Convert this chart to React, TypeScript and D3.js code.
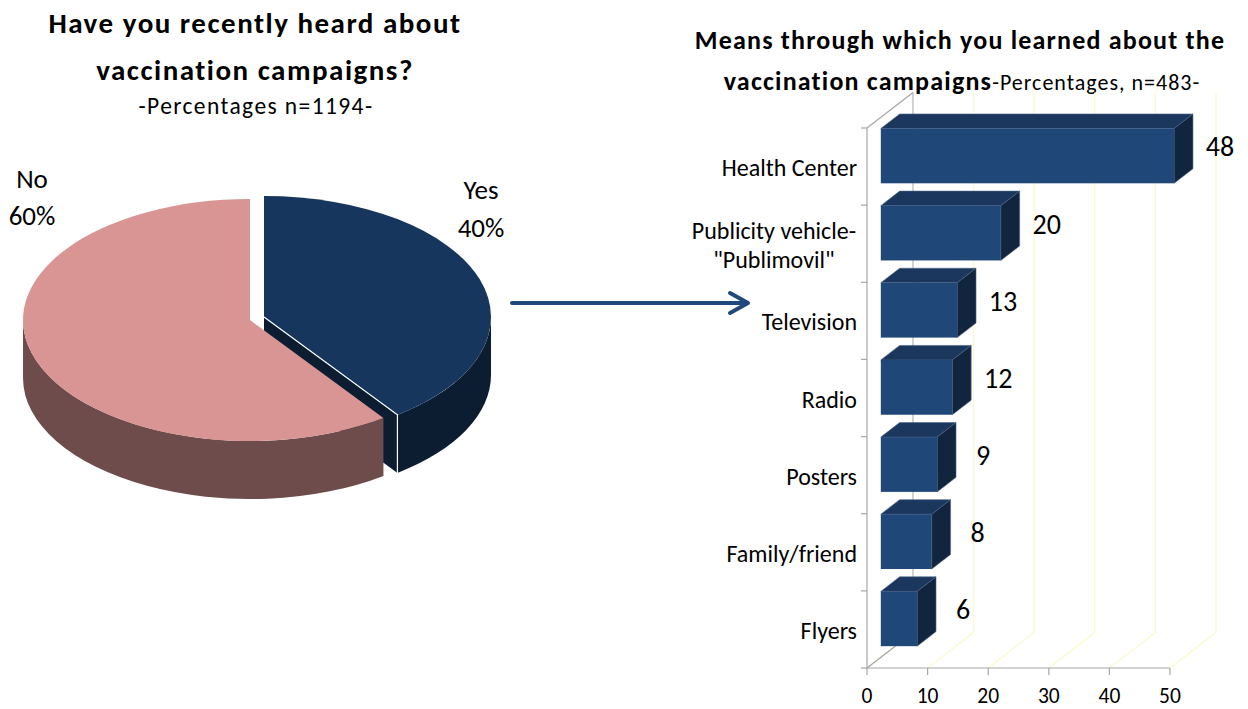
import React, { useEffect, useRef } from "react";
import * as d3 from "d3";

const pieCategories = ["Yes", "No"];
const pieValues = [40, 60];
const barCategories = [
  "Health Center",
  "Publicity vehicle-|\"Publimovil\"",
  "Television",
  "Radio",
  "Posters",
  "Family/friend",
  "Flyers",
];
const barValues = [48.4, 19.8, 12.6, 11.8, 9.3, 8.4, 6.0];
const xTicks = [0, 10, 20, 30, 40, 50];

const FONT = "Carlito, Calibri, Lato, 'Open Sans', sans-serif";

export default function App() {
  const ref = useRef<SVGSVGElement>(null);

  useEffect(() => {
    const svg = d3.select(ref.current);
    svg.selectAll("*").remove();

    // ---------- Titles ----------
    const t = svg.append("g").attr("font-family", FONT).attr("fill", "#000");
    t.append("text").attr("x", 255).attr("y", 33).attr("text-anchor", "middle")
      .attr("font-weight", "bold").attr("font-size", 29).attr("letter-spacing", 1.5)
      .text("Have you recently heard about");
    t.append("text").attr("x", 255).attr("y", 80).attr("text-anchor", "middle")
      .attr("font-weight", "bold").attr("font-size", 29).attr("letter-spacing", 1.5)
      .text("vaccination campaigns?");
    t.append("text").attr("x", 256).attr("y", 114).attr("text-anchor", "middle")
      .attr("font-size", 23.5).attr("letter-spacing", 1.4).text("-Percentages n=1194-");

    t.append("text").attr("x", 960).attr("y", 49).attr("text-anchor", "middle")
      .attr("font-weight", "bold").attr("font-size", 26).attr("letter-spacing", 1.2)
      .text("Means through which you learned about the");
    const l2 = t.append("text").attr("x", 962).attr("y", 90).attr("text-anchor", "middle");
    l2.append("tspan").attr("font-weight", "bold").attr("font-size", 26).attr("letter-spacing", 1.2)
      .text("vaccination campaigns");
    l2.append("tspan").attr("font-size", 22).attr("letter-spacing", 1).text("-Percentages, n=483-");

    // ---------- 3D Pie ----------
    const cx = 250, cy = 320, rx = 227, ry = 121, depth = 58;
    const explode = [14, -3];
    const arcs = d3.pie<number>().sort(null).startAngle(0).endAngle(2 * Math.PI)(pieValues);
    const P = (a: number, ox: number, oy: number, dz = 0): [number, number] =>
      [cx + ox + rx * Math.sin(a), cy + oy - ry * Math.cos(a) + dz];
    const topPath = (a0: number, a1: number, ox: number, oy: number) => {
      const p0 = P(a0, ox, oy), p1 = P(a1, ox, oy);
      const large = a1 - a0 > Math.PI ? 1 : 0;
      return `M${cx + ox},${cy + oy}L${p0[0]},${p0[1]}A${rx},${ry} 0 ${large} 1 ${p1[0]},${p1[1]}Z`;
    };
    const sidePath = (a0: number, a1: number, ox: number, oy: number) => {
      const s = Math.max(a0, Math.PI / 2), e = Math.min(a1, 1.5 * Math.PI);
      if (e <= s) return null;
      const p0 = P(s, ox, oy), p1 = P(e, ox, oy), q1 = P(e, ox, oy, depth), q0 = P(s, ox, oy, depth);
      const large = e - s > Math.PI ? 1 : 0;
      return `M${p0[0]},${p0[1]}A${rx},${ry} 0 ${large} 1 ${p1[0]},${p1[1]}L${q1[0]},${q1[1]}A${rx},${ry} 0 ${large} 0 ${q0[0]},${q0[1]}Z`;
    };
    const topColors = ["#17365d", "#d99594"];
    const sideColors = ["#0c1d31", "#6d4c4b"];
    const pg = svg.append("g");
    // Yes slice (exploded)
    {
      const a = arcs[0];
      const [ox, oy] = explode;
      const pe = P(a.endAngle, ox, oy), pd = P(a.endAngle, ox, oy, depth);
      pg.append("path")
        .attr("d", `M${cx + ox},${cy + oy}L${pe[0]},${pe[1]}L${pd[0]},${pd[1]}L${cx + ox},${cy + oy + depth}Z`)
        .attr("fill", sideColors[0]);
      const sp = sidePath(a.startAngle, a.endAngle, ox, oy);
      if (sp) pg.append("path").attr("d", sp).attr("fill", sideColors[0]);
      pg.append("path").attr("d", topPath(a.startAngle, a.endAngle, ox, oy)).attr("fill", topColors[0]);
      pg.append("path")
        .attr("d", `M${cx + ox},${cy + oy}L${pe[0]},${pe[1]}L${pd[0]},${pd[1]}`)
        .attr("fill", "none").attr("stroke", "#fff").attr("stroke-width", 1.2);
    }
    // No slice
    {
      const a = arcs[1];
      const sp = sidePath(a.startAngle, a.endAngle, 0, 0);
      if (sp) pg.append("path").attr("d", sp).attr("fill", sideColors[1]);
      pg.append("path").attr("d", topPath(a.startAngle, a.endAngle, 0, 0)).attr("fill", topColors[1]);
    }
    // Pie labels
    const pl = svg.append("g").attr("font-family", FONT).attr("font-size", 27).attr("text-anchor", "middle");
    pl.append("text").attr("x", 32).attr("y", 188).text(pieCategories[1]);
    pl.append("text").attr("x", 32).attr("y", 225).text(`${pieValues[1]}%`);
    pl.append("text").attr("x", 481).attr("y", 199).text(pieCategories[0]);
    pl.append("text").attr("x", 481).attr("y", 237).text(`${pieValues[0]}%`);

    // ---------- Arrow ----------
    const ag = svg.append("g").attr("stroke", "#1f497d").attr("stroke-width", 4).attr("fill", "none")
      .attr("stroke-linecap", "round").attr("stroke-linejoin", "round");
    ag.append("line").attr("x1", 512).attr("y1", 303).attr("x2", 746).attr("y2", 303);
    ag.append("polyline").attr("points", "730,293 748,303 730,313");

    // ---------- 3D Bar chart ----------
    const x = d3.scaleLinear().domain([0, 50]).range([867, 1170]);
    const y = d3.scaleBand<string>().domain(barCategories).range([128, 668]).paddingInner(0.29).paddingOuter(0.145);
    const DX = 46, DY = -35.5;
    const f0 = 0.3, f1 = 0.71;
    const y0 = 668;
    const bg = svg.append("g");

    // back wall gridlines and floor lines
    xTicks.forEach((v) => {
      const isZero = v === 0;
      bg.append("line")
        .attr("x1", x(v) + DX).attr("x2", x(v) + DX)
        .attr("y1", 128 + DY).attr("y2", y0 + DY)
        .attr("stroke", isZero ? "#b5b5b5" : "#fbfbc8").attr("stroke-width", 1.2);
      bg.append("line")
        .attr("x1", x(v)).attr("y1", y0)
        .attr("x2", x(v) + DX).attr("y2", y0 + DY)
        .attr("stroke", isZero ? "#a8a595" : "#fbfbc8").attr("stroke-width", 1.2);
    });
    // axes
    bg.append("line").attr("x1", x(0)).attr("x2", x(0)).attr("y1", 128).attr("y2", y0)
      .attr("stroke", "#a6a6a6").attr("stroke-width", 1.2);
    bg.append("line").attr("x1", x(0)).attr("y1", 128).attr("x2", x(0) + DX).attr("y2", 128 + DY)
      .attr("stroke", "#a6a6a6").attr("stroke-width", 1.2);
    bg.append("line").attr("x1", x(0)).attr("x2", x(50)).attr("y1", y0).attr("y2", y0)
      .attr("stroke", "#a6a6a6").attr("stroke-width", 1.2);
    const step = y.step();
    for (let k = 0; k <= barCategories.length; k++) {
      const yy = 128 + k * step;
      bg.append("line").attr("x1", x(0) - 6).attr("x2", x(0)).attr("y1", yy).attr("y2", yy)
        .attr("stroke", "#a6a6a6").attr("stroke-width", 1.2);
    }
    xTicks.forEach((v) => {
      bg.append("line").attr("x1", x(v)).attr("x2", x(v)).attr("y1", y0).attr("y2", y0 + 7)
        .attr("stroke", "#a6a6a6").attr("stroke-width", 1.2);
      bg.append("text").attr("x", x(v)).attr("y", 703).attr("text-anchor", "middle")
        .attr("font-family", FONT).attr("font-size", 21.5).text(String(v));
    });

    // bars
    const bw = y.bandwidth();
    barCategories.forEach((c, i) => {
      const v = barValues[i];
      const ox1 = DX * f0, oy1 = DY * f0, ox2 = DX * f1, oy2 = DY * f1;
      const top = (y(c) as number) + oy1;
      const bot = top + bw;
      const xl = x(0) + ox1, xr = x(v) + ox1;
      const ddx = ox2 - ox1, ddy = oy2 - oy1;
      const g = bg.append("g").attr("stroke", "#4d6585").attr("stroke-width", 0.6).attr("stroke-linejoin", "round");
      g.append("path").attr("d", `M${xl},${top}L${xl + ddx},${top + ddy}L${xr + ddx},${top + ddy}L${xr},${top}Z`)
        .attr("fill", "#1b375e");
      g.append("path").attr("d", `M${xr},${top}L${xr + ddx},${top + ddy}L${xr + ddx},${bot + ddy}L${xr},${bot}Z`)
        .attr("fill", "#12253f");
      g.append("rect").attr("x", xl).attr("y", top).attr("width", xr - xl).attr("height", bw)
        .attr("fill", "#1f4778").attr("stroke", "none");
      bg.append("text").attr("x", xr + ddx + 27).attr("y", top + bw / 2 - 9)
        .attr("dominant-baseline", "central").attr("text-anchor", "middle")
        .attr("font-family", FONT).attr("font-size", 28).text(String(Math.round(v)));

      // category label
      const yc = (y(c) as number) + bw / 2 + 1;
      const parts = c.split("|");
      if (parts.length === 1) {
        bg.append("text").attr("x", 857).attr("y", yc).attr("dominant-baseline", "central")
          .attr("text-anchor", "end").attr("font-family", FONT).attr("font-size", 24).text(c);
      } else {
        const t1 = bg.append("text").attr("x", 856).attr("y", yc - 14).attr("dominant-baseline", "central")
          .attr("text-anchor", "end").attr("font-family", FONT).attr("font-size", 24).text(parts[0]);
        const w = (t1.node() as SVGTextElement).getComputedTextLength();
        bg.append("text").attr("x", 856 - w / 2).attr("y", yc + 15).attr("dominant-baseline", "central")
          .attr("text-anchor", "middle").attr("font-family", FONT).attr("font-size", 24).text(parts[1]);
      }
    });
  }, []);

  return (
    <svg
      ref={ref}
      width={1248}
      height={709}
      style={{ position: "absolute", left: 0, top: 0, background: "#fff", display: "block" }}
    />
  );
}
